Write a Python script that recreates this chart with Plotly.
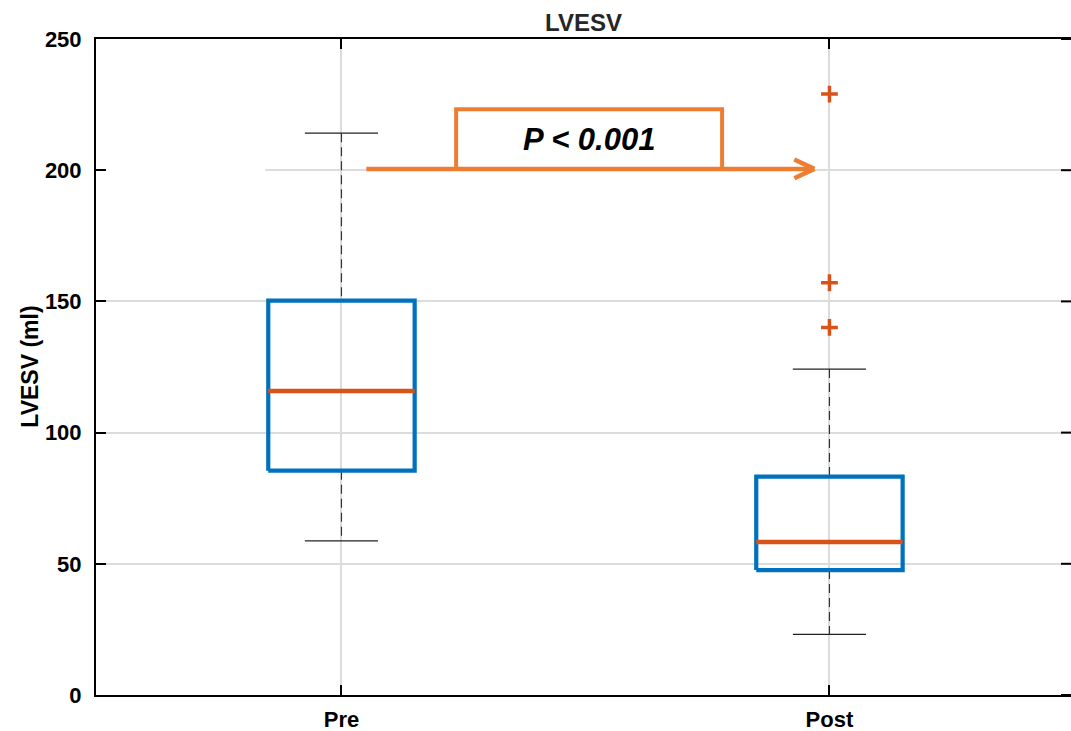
import plotly.graph_objects as go

# ---- data ----
categories = ["Pre", "Post"]
positions = [1, 2]
q1 = [85.5, 47.6]
medians = [115.9, 58.3]
q3 = [150.3, 83.2]
lower_whisker = [58.7, 23.1]
upper_whisker = [214.1, 124.2]
outlier_pos = [2, 2, 2]
outlier_vals = [229.0, 157.1, 140.1]
y_ticks = [0, 50, 100, 150, 200, 250]
p_text = "P < 0.001"

BLUE = "#0072BD"
ORANGE = "#D95319"
ANNOT = "#ED7D31"
FONT = "Liberation Sans"

BOX_HALF = 0.15
CAP_HALF = 0.075

fig = go.Figure()

for x, lo, a, m, b, hi in zip(positions, lower_whisker, q1, medians, q3, upper_whisker):
    # whiskers (dashed)
    for y0, y1 in ((hi, b), (a, lo)):
        fig.add_trace(go.Scatter(x=[x, x], y=[y0, y1], mode="lines",
                                 line=dict(color="#333333", width=1.2, dash="9px,5px"),
                                 hoverinfo="skip", showlegend=False))
    # caps
    for yv in (hi, lo):
        fig.add_trace(go.Scatter(x=[x - CAP_HALF, x + CAP_HALF], y=[yv, yv], mode="lines",
                                 line=dict(color="#222222", width=1.3),
                                 hoverinfo="skip", showlegend=False))
    # box
    fig.add_trace(go.Scatter(x=[x - BOX_HALF, x + BOX_HALF, x + BOX_HALF, x - BOX_HALF, x - BOX_HALF],
                             y=[a, a, b, b, a], mode="lines",
                             line=dict(color=BLUE, width=4.2),
                             hoverinfo="skip", showlegend=False))
    # median
    fig.add_trace(go.Scatter(x=[x - BOX_HALF, x + BOX_HALF], y=[m, m], mode="lines",
                             line=dict(color=ORANGE, width=4.5),
                             hoverinfo="skip", showlegend=False))

# outliers
fig.add_trace(go.Scatter(x=outlier_pos, y=outlier_vals, mode="markers",
                         marker=dict(symbol="cross-thin", size=12,
                                     line=dict(color=ORANGE, width=3.5)),
                         hoverinfo="skip", showlegend=False))

# annotation geometry (positions / styles)
arrow_y = 200.5
rect_top = 223.2
rect_x0, rect_x1 = 1.235, 1.780
line_x0, tip_x = 1.051, 1.969
arm_dx, arm_dy = 0.041, 3.6

shapes = [
    # white patch hiding part of the 200 gridline (as in the reference)
    dict(type="rect", xref="x", yref="y", x0=0.49, x1=0.844, y0=199.2, y1=201.0,
         fillcolor="white", line=dict(width=0), layer="between"),
    dict(type="rect", xref="x", yref="y", x0=rect_x0, x1=rect_x1, y0=arrow_y, y1=rect_top,
         fillcolor="white", line=dict(color=ANNOT, width=4), layer="above"),
    dict(type="line", xref="x", yref="y", x0=line_x0, x1=tip_x, y0=arrow_y, y1=arrow_y,
         line=dict(color=ANNOT, width=4.5), layer="above"),
    dict(type="line", xref="x", yref="y", x0=tip_x - arm_dx, x1=tip_x,
         y0=arrow_y + arm_dy, y1=arrow_y, line=dict(color=ANNOT, width=4.5), layer="above"),
    dict(type="line", xref="x", yref="y", x0=tip_x - arm_dx, x1=tip_x,
         y0=arrow_y - arm_dy, y1=arrow_y, line=dict(color=ANNOT, width=4.5), layer="above"),
]
# right-side inward ticks (the right axis line itself lies outside the picture)
for t in y_ticks:
    shapes.append(dict(type="line", xref="paper", yref="y", x0=1 - 10 / 973, x1=1,
                       y0=t, y1=t, line=dict(color="black", width=2), layer="above"))

annotations = [
    dict(x=(rect_x0 + rect_x1) / 2, y=(arrow_y + rect_top) / 2, xref="x", yref="y",
         text="<b><i>" + p_text + "</i></b>", showarrow=False,
         font=dict(family=FONT, size=31, color="black"), xanchor="center", yanchor="middle"),
    dict(x=-0.068, y=0.5, xref="paper", yref="paper", text="<b>LVESV (ml)</b>",
         textangle=-90, showarrow=False, xanchor="center", yanchor="middle",
         font=dict(family=FONT, size=23, color="black")),
]

fig.update_layout(
    width=1071, height=731,
    margin=dict(l=96, r=0, t=39, b=36),
    paper_bgcolor="white", plot_bgcolor="white",
    title=dict(text="<b>LVESV</b>", x=0.5, xref="paper", xanchor="center",
               y=1 - 23 / 731, yref="container", yanchor="middle",
               font=dict(family=FONT, size=24, color="#262626")),
    shapes=shapes, annotations=annotations,
    showlegend=False,
)

fig.update_xaxes(range=[0.497, 2.495], tickvals=positions, ticktext=categories,
                 showgrid=True, gridcolor="#dcdcdc", gridwidth=1.5,
                 showline=True, linecolor="black", linewidth=2, mirror="ticks",
                 ticks="inside", ticklen=10, tickwidth=2, tickcolor="black",
                 ticklabelstandoff=4,
                 tickfont=dict(family=FONT, size=22, color="black", weight="bold"),
                 zeroline=False, fixedrange=True)
fig.update_yaxes(range=[0, 250], tickvals=y_ticks,
                 showgrid=True, gridcolor="#dcdcdc", gridwidth=1.5,
                 showline=True, linecolor="black", linewidth=2, mirror=False,
                 ticks="inside", ticklen=10, tickwidth=2, tickcolor="black",
                 ticklabelstandoff=8,
                 tickfont=dict(family=FONT, size=22, color="black", weight="bold"),
                 zeroline=False, fixedrange=True)

fig.write_html("out.html")
